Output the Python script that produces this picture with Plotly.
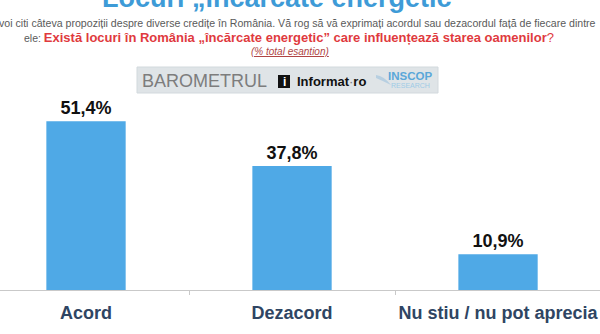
import plotly.graph_objects as go

categories = ["Acord", "Dezacord", "Nu stiu / nu pot aprecia"]
values = [51.4, 37.8, 10.9]
value_labels = [f"{v:.1f}".replace(".", ",") + "%" for v in values]

title_text = "Locuri „încărcate energetic”"
intro_text = ("voi citi câteva propoziții despre diverse credițe în România. "
              "Vă rog să vă exprimați acordul sau dezacordul față de fiecare dintre")
question_text = "Există locuri în România „încărcate energetic” care influențează starea oamenilor"
note_text = "(% total esantion)"

W, H = 600, 334
M_T, M_B = 93, 44
PLOT_H = H - M_T - M_B


def py(pix):
    return (H - M_B - pix) / PLOT_H


def px(pix):
    return pix / W


FONT = "Arial, 'Liberation Sans', sans-serif"

fig = go.Figure()
fig.add_trace(go.Bar(
    x=categories, y=values, width=0.385,
    marker=dict(color="#4fa9e6", line=dict(width=0)),
    text=value_labels, textposition="outside",
    textfont=dict(family=FONT, size=18, color="#111111", weight="bold"),
    cliponaxis=False, hoverinfo="skip",
))


def note(x, y, text, size, color, xanchor="center"):
    return dict(x=px(x), y=py(y), xref="paper", yref="paper", text=text, showarrow=False,
                xanchor=xanchor, yanchor="middle",
                font=dict(family=FONT, size=size, color=color))


ann = [
    note(283, -2, f"<b>{title_text}</b>", 27, "#3e9bd7"),
    note(297, 23, intro_text, 10.6, "#5a5a5a"),
    note(22, 37.5, ("<span style='color:#5a5a5a;font-size:10.5px'>ele: </span>"
                    f"<b>{question_text}</b>?"), 13, "#e03a3e", "left"),
    note(290, 51.5, f"<i><u>{note_text}</u></i>", 10, "#b04545"),
    note(204, 81, "BAROMETRUL", 18, "#7d7d7d"),
    note(284, 81.5, "<b>i</b>", 12, "#ffffff"),
    note(331, 81, "<b>Informat</b><span style='color:#777'>·</span><b>ro</b>", 13, "#111111"),
    note(410, 75.5, "<b>INSCOP</b>", 11.5, "#5aa7d9"),
    note(410, 85, "RESEARCH", 7, "#9ecbe6"),
]

shapes = [
    dict(type="rect", xref="paper", yref="paper", x0=px(137), x1=px(438), y0=py(93), y1=py(67),
         fillcolor="#dfe4e7", line=dict(color="#d2d9dd", width=1), layer="below"),
    dict(type="rect", xref="paper", yref="paper", x0=px(278), x1=px(290), y0=py(88), y1=py(75),
         fillcolor="#111111", line=dict(width=0), layer="below"),
    dict(type="path", xref="paper", yref="paper",
         path=(f"M {px(376)} {py(75)} Q {px(384)} {py(76)} {px(391)} {py(85)} "
               f"Q {px(383)} {py(81)} {px(376)} {py(78)} Z"),
         fillcolor="#b7cfe1", line=dict(width=0)),
]

fig.update_layout(
    width=W, height=H,
    margin=dict(l=0, r=0, t=M_T, b=M_B, pad=0),
    paper_bgcolor="white", plot_bgcolor="white",
    showlegend=False,
    annotations=ann, shapes=shapes,
    xaxis=dict(range=[-0.4175, 2.495], showline=True, linecolor="#c9c9c9", linewidth=1,
               ticks="outside", tickson="boundaries", ticklen=4, tickcolor="#c9c9c9",
               showgrid=False, zeroline=False, fixedrange=True,
               tickfont=dict(family=FONT, size=18, color="#2f4563", weight="bold"),
               ticklabelstandoff=6),
    yaxis=dict(range=[0, 60], visible=False, showgrid=False, zeroline=False, fixedrange=True),
)

fig.write_html("out.html")
